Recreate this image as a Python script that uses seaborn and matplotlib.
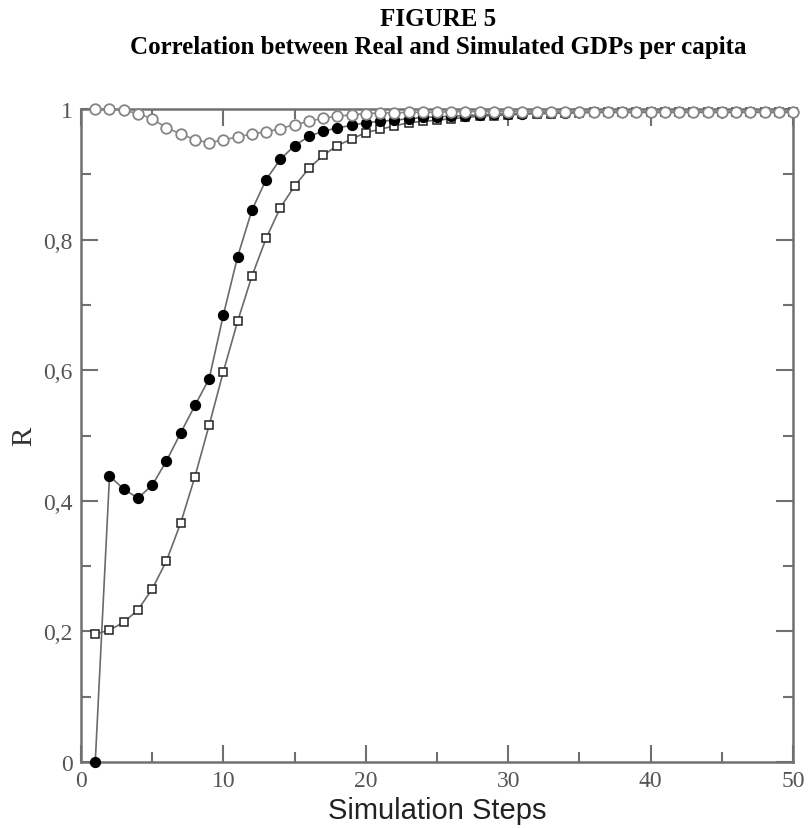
import numpy as np
import pandas as pd
import matplotlib
matplotlib.use("Agg")
import matplotlib.pyplot as plt
from matplotlib.ticker import MultipleLocator, FuncFormatter
import seaborn as sns

# Simulation steps 1..50 and the correlation R for each of the three runs
steps = list(range(1, 51))

corr_hollow = [1.000, 1.000, 0.998, 0.993, 0.985, 0.971, 0.962, 0.953, 0.948, 0.953,
               0.957, 0.962, 0.965, 0.970, 0.976, 0.981, 0.986, 0.989, 0.991, 0.993,
               0.994, 0.994, 0.995, 0.995, 0.995, 0.996, 0.996, 0.996, 0.996, 0.996,
               0.996, 0.996, 0.996, 0.996, 0.996, 0.996, 0.996, 0.996, 0.996, 0.996,
               0.996, 0.996, 0.996, 0.996, 0.996, 0.996, 0.996, 0.996, 0.996, 0.996]

corr_filled = [0.000, 0.438, 0.418, 0.404, 0.424, 0.461, 0.504, 0.546, 0.587, 0.685,
               0.774, 0.845, 0.892, 0.923, 0.944, 0.958, 0.966, 0.971, 0.975, 0.979,
               0.981, 0.983, 0.985, 0.987, 0.988, 0.989, 0.990, 0.991, 0.992, 0.993,
               0.993, 0.994, 0.994, 0.994, 0.995, 0.995, 0.995, 0.995, 0.995, 0.995,
               0.995, 0.995, 0.995, 0.995, 0.995, 0.995, 0.995, 0.995, 0.995, 0.995]

corr_square = [0.196, 0.202, 0.214, 0.233, 0.265, 0.308, 0.366, 0.437, 0.516, 0.598,
               0.675, 0.744, 0.802, 0.849, 0.882, 0.909, 0.929, 0.944, 0.954, 0.964,
               0.969, 0.974, 0.979, 0.981, 0.983, 0.985, 0.987, 0.989, 0.990, 0.991,
               0.992, 0.993, 0.993, 0.994, 0.994, 0.995, 0.995, 0.995, 0.995, 0.995,
               0.995, 0.995, 0.995, 0.995, 0.995, 0.995, 0.995, 0.995, 0.995, 0.995]

x_ticks = [0, 10, 20, 30, 40, 50]
y_ticks = [0, 0.2, 0.4, 0.6, 0.8, 1]

sns.set_theme(style="ticks")
plt.rcParams["font.family"] = ["Liberation Serif", "DejaVu Serif"]

fig = plt.figure(figsize=(8.11, 8.29), dpi=100)
ax = fig.add_axes([0.0999, 0.0796, 0.8779, 0.7877])

line_gray = "#6a6a6a"
axis_gray = "#707070"

df_sq = pd.DataFrame({"step": steps, "R": corr_square})
df_fi = pd.DataFrame({"step": steps, "R": corr_filled})
df_ho = pd.DataFrame({"step": steps, "R": corr_hollow})

sns.lineplot(data=df_sq, x="step", y="R", ax=ax, color=line_gray, lw=1.2,
             marker="s", markersize=6.3, markerfacecolor="white",
             markeredgecolor="#222222", markeredgewidth=1.1, zorder=3, clip_on=False)
sns.lineplot(data=df_fi, x="step", y="R", ax=ax, color=line_gray, lw=1.2,
             marker="o", markersize=7.3, markerfacecolor="black",
             markeredgecolor="black", markeredgewidth=0.8, zorder=4, clip_on=False)
sns.lineplot(data=df_ho, x="step", y="R", ax=ax, color="#8a8a8a", lw=1.2,
             marker="o", markersize=7.6, markerfacecolor="white",
             markeredgecolor="#858585", markeredgewidth=1.3, zorder=5, clip_on=False)

ax.set_xlim(0, 50)
ax.set_ylim(0, 1)
ax.set_xticks(x_ticks)
ax.set_yticks(y_ticks)
ax.xaxis.set_minor_locator(MultipleLocator(5))
ax.yaxis.set_minor_locator(MultipleLocator(0.1))
ax.yaxis.set_major_formatter(FuncFormatter(
    lambda v, p: "0" if v == 0 else ("1" if v == 1 else f"{v:.1f}".replace(".", ","))))

for s in ax.spines.values():
    s.set_visible(True)
    s.set_color(axis_gray)
    s.set_linewidth(1.8)

ax.tick_params(which="both", direction="in", top=True, right=True,
               color=axis_gray, width=1.5, labelsize=17, labelcolor="#555555")
ax.tick_params(which="major", length=12, pad=6)
ax.tick_params(which="minor", length=7)

ax.set_xlabel("Simulation Steps", fontsize=21, family=["Liberation Sans", "DejaVu Sans"],
              color="#222222", labelpad=3)
ax.set_ylabel("R", fontsize=21, color="#333333", labelpad=4)

fig.text(0.54, 0.977, "FIGURE 5", ha="center", va="center",
         fontsize=18, fontweight="bold", color="black")
fig.text(0.54, 0.943, "Correlation between Real and Simulated GDPs per capita",
         ha="center", va="center", fontsize=18, fontweight="bold", color="black")

fig.savefig("out.png", dpi=100, facecolor="white")
